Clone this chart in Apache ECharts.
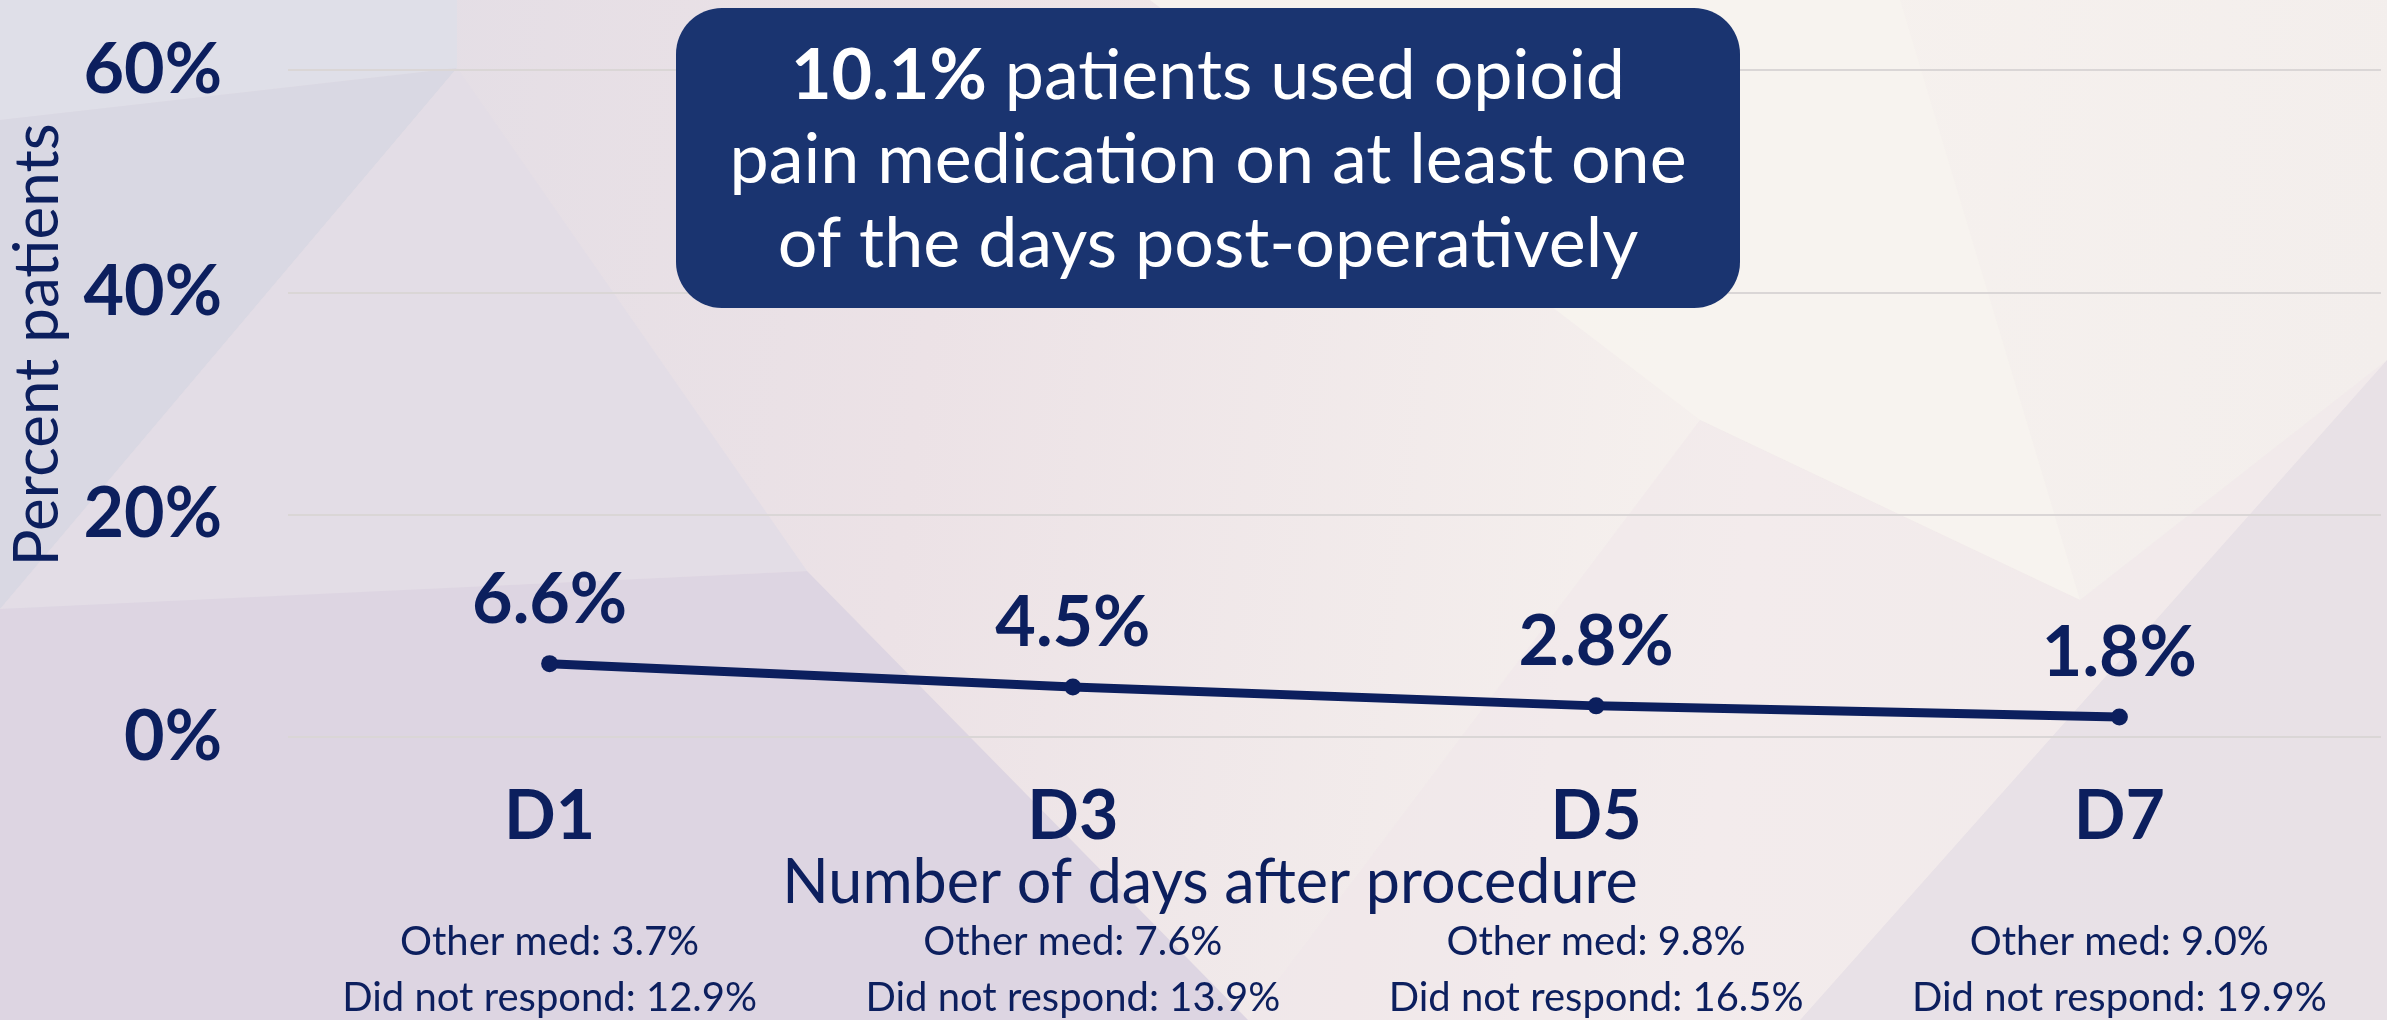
<!DOCTYPE html>
<html>
<head>
<meta charset="utf-8">
<script src="https://cdn.jsdelivr.net/npm/echarts@6/dist/echarts.min.js"></script>
<style>
  html, body { margin: 0; padding: 0; }
  #chart-area { width: 2387px; height: 1020px; }
</style>
</head>
<body>
<div id="chart-area"></div>
<script>
const days = ['D1', 'D3', 'D5', 'D7'];
const opioidUse = [6.6, 4.5, 2.8, 1.8];
const otherMed = ['3.7', '7.6', '9.8', '9.0'];
const noResponse = ['12.9', '13.9', '16.5', '19.9'];
const yTicks = { min: 0, max: 60, interval: 20 };

const navy = '#0c1f5e';
const font = 'Lato';

let chartDom = document.getElementById('chart-area');
let myChart = echarts.init(chartDom);
let option;

option = {
  backgroundColor: {
    type: 'linear', x: 0, y: 0, x2: 1, y2: 0.3,
    colorStops: [
      { offset: 0, color: '#dedbe5' },
      { offset: 0.4, color: '#ece2e6' },
      { offset: 0.75, color: '#f6f1ee' },
      { offset: 1, color: '#f3eeec' }
    ]
  },
  graphic: [
    // faceted background
    { type: 'polygon', z: -10, silent: true, shape: { points: [[0, 0], [457, 0], [457, 68], [0, 120]] }, style: { fill: '#dfdfe8' } },
    { type: 'polygon', z: -10, silent: true, shape: { points: [[0, 120], [457, 68], [0, 609]] }, style: { fill: '#d9d8e3' } },
    { type: 'polygon', z: -10, silent: true, shape: { points: [[457, 68], [807, 571], [0, 609]] }, style: { fill: '#e3dde6' } },
    { type: 'polygon', z: -10, silent: true, shape: { points: [[0, 609], [807, 571], [1248, 1020], [0, 1020]] }, style: { fill: '#ddd5e2' } },
    { type: 'polygon', z: -10, silent: true, shape: { points: [[1150, 0], [1900, 0], [2080, 600], [1700, 420]] }, style: { fill: '#f8f4ef', opacity: 0.8 } },
    { type: 'polygon', z: -10, silent: true, shape: { points: [[1800, 1020], [2387, 360], [2387, 1020]] }, style: { fill: '#e7dfe6', opacity: 0.9 } },
    { type: 'polygon', z: -10, silent: true, shape: { points: [[1700, 420], [2080, 600], [2387, 360], [1800, 1020], [1248, 1020]] }, style: { fill: '#efe6e9', opacity: 0.5 } },
    // headline box
    {
      type: 'rect', z: 20,
      shape: { x: 676, y: 8, width: 1064, height: 300, r: 46 },
      style: { fill: '#1a3470' }
    },
    {
      type: 'text', z: 21,
      x: 1208, y: 160,
      style: {
        text: '{b|10.1%} patients used opioid\npain medication on at least one\nof the days post-operatively',
        rich: {
          b: { fontFamily: font, fontWeight: 'bold', fontSize: 70, fill: '#ffffff', lineHeight: 84 }
        },
        fontFamily: font, fontSize: 70, lineHeight: 84,
        fill: '#ffffff', align: 'center', verticalAlign: 'middle'
      }
    },
    // axis names
    {
      type: 'text', z: 5,
      x: 1210, y: 883,
      style: {
        text: 'Number of days after procedure',
        fontFamily: font, fontSize: 61, fill: navy,
        align: 'center', verticalAlign: 'middle'
      }
    },
    {
      type: 'text', z: 5,
      x: 38, y: 345, rotation: Math.PI / 2,
      style: {
        text: 'Percent patients',
        fontFamily: font, fontSize: 62, fill: navy,
        align: 'center', verticalAlign: 'middle'
      }
    }
  ],
  grid: { left: 288, right: 6, top: 70, bottom: 283 },
  xAxis: {
    type: 'category',
    data: days,
    axisLine: { show: false },
    axisTick: { show: false },
    axisLabel: {
      interval: 0,
      margin: 45,
      formatter: function (value, i) {
        return '{d|' + value + '}\n{sp|}\n{o|Other med: ' + otherMed[i] + '%}\n{o|Did not respond: ' + noResponse[i] + '%}';
      },
      rich: {
        d: { fontFamily: font, fontWeight: 'bold', fontSize: 68, color: navy, lineHeight: 70 },
        sp: { lineHeight: 62 },
        o: { fontFamily: font, fontSize: 40, color: navy, lineHeight: 56 }
      }
    }
  },
  yAxis: {
    type: 'value',
    min: yTicks.min,
    max: yTicks.max,
    interval: yTicks.interval,
    axisLine: { show: false },
    axisTick: { show: false },
    axisLabel: {
      formatter: '{value}%',
      margin: 66,
      fontFamily: font,
      fontWeight: 'bold',
      fontSize: 70,
      color: navy
    },
    splitLine: { lineStyle: { color: '#dad6d6', width: 2 } }
  },
  series: [
    {
      name: 'Opioid use',
      type: 'line',
      data: opioidUse,
      symbol: 'circle',
      symbolSize: 17,
      lineStyle: { color: navy, width: 9 },
      itemStyle: { color: navy },
      label: {
        show: true,
        position: 'top',
        distance: 20,
        formatter: '{c}%',
        fontFamily: font,
        fontWeight: 'bold',
        fontSize: 70,
        color: navy
      }
    }
  ]
};

option && myChart.setOption(option);
</script>
</body>
</html>
